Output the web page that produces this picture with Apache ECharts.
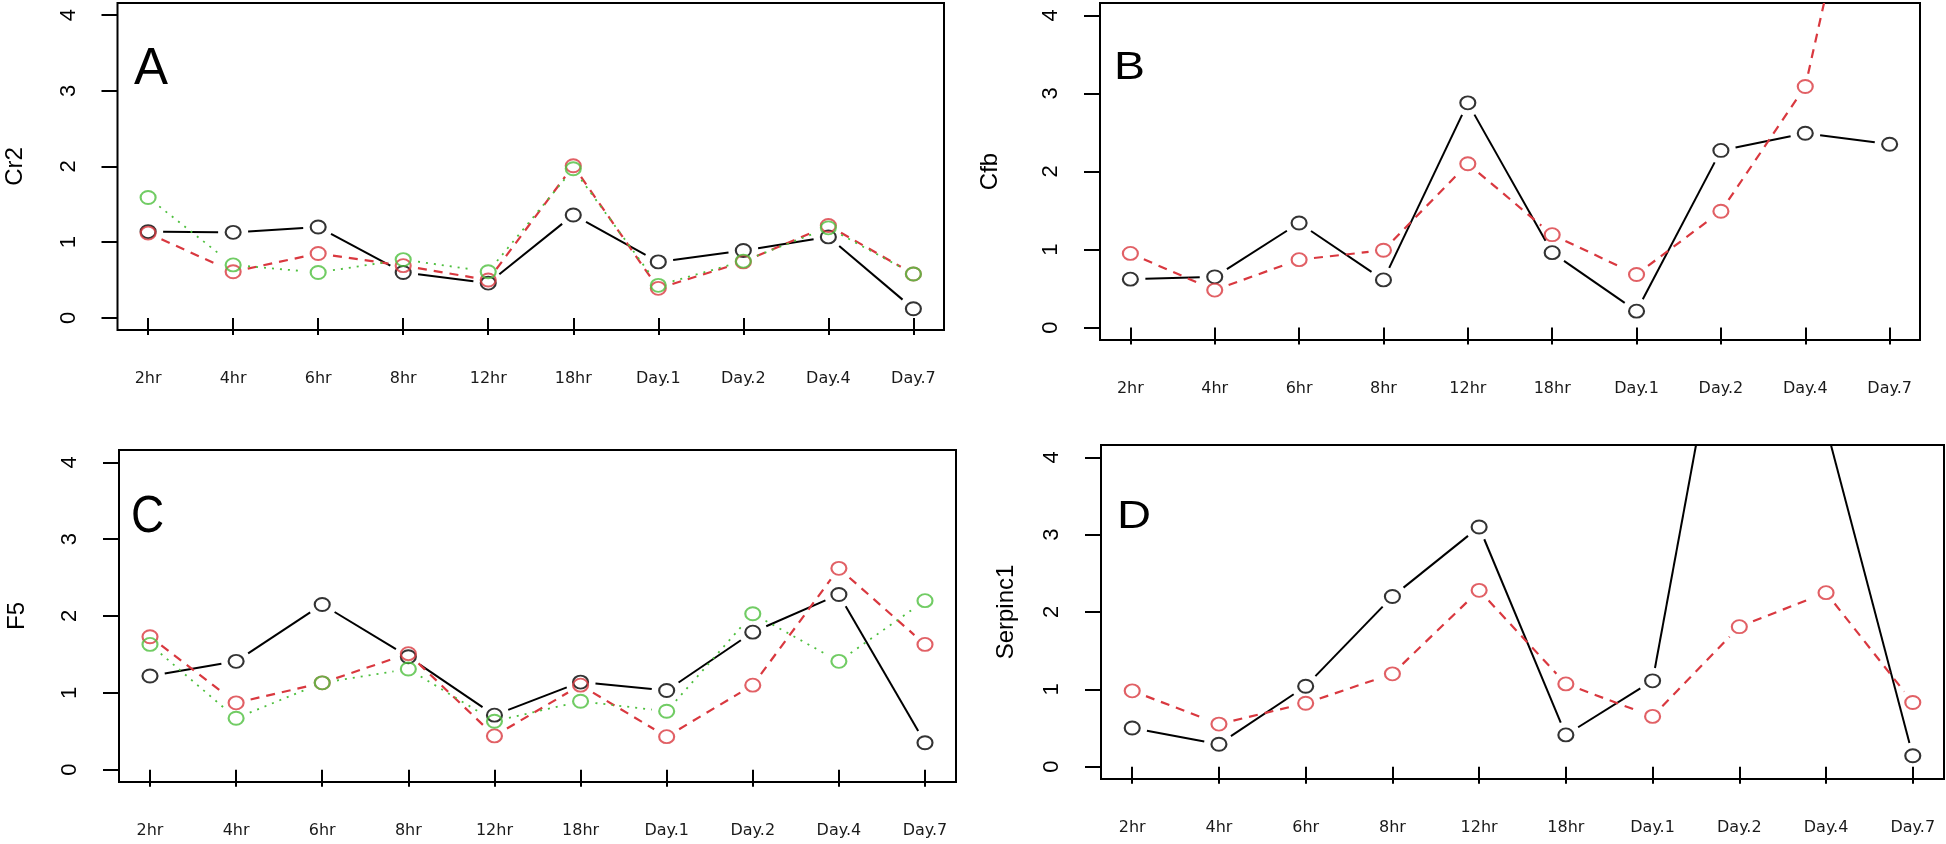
<!DOCTYPE html>
<html>
<head>
<meta charset="utf-8">
<script src="https://cdn.jsdelivr.net/npm/echarts@6/dist/echarts.min.js"></script>
<style>
html,body{margin:0;padding:0;background:#fff;}
#chart{width:1946px;height:844px;}
</style>
</head>
<body>
<div id="chart"></div>
<script>
// ---- data ----
const categories = ['2hr','4hr','6hr','8hr','12hr','18hr','Day.1','Day.2','Day.4','Day.7'];
const yTicks = [0, 1, 2, 3, 4];

const cr2Black = [1.14, 1.13, 1.20, 0.60, 0.46, 1.36, 0.74, 0.89, 1.07, 0.12];
const cr2Red   = [1.12, 0.61, 0.85, 0.69, 0.50, 2.01, 0.39, 0.74, 1.22, 0.58];
const cr2Green = [1.59, 0.70, 0.60, 0.77, 0.61, 1.97, 0.43, 0.75, 1.19, 0.58];

const cfbBlack = [0.62, 0.65, 1.34, 0.61, 2.88, 0.96, 0.21, 2.27, 2.49, 2.35];
const cfbRed   = [0.95, 0.48, 0.87, 0.99, 2.10, 1.19, 0.68, 1.49, 3.09, 7.9];

const f5Black = [1.22, 1.41, 2.15, 1.47, 0.71, 1.14, 1.03, 1.79, 2.28, 0.35];
const f5Red   = [1.73, 0.87, 1.13, 1.51, 0.44, 1.10, 0.43, 1.10, 2.62, 1.63];
const f5Green = [1.63, 0.67, 1.13, 1.31, 0.63, 0.89, 0.76, 2.03, 1.41, 2.20];

const serBlack = [0.50, 0.29, 1.04, 2.20, 3.10, 0.41, 1.11, 7.2, 4.4, 0.14];
const serRed   = [0.98, 0.55, 0.82, 1.20, 2.28, 1.07, 0.65, 1.81, 2.25, 0.83];

const panelTitles = ['Cr2', 'Cfb', 'F5', 'Serpinc1'];
const panelLetters = ['A', 'B', 'C', 'D'];

// ---- styles / layout ----
const BLACK = '#000000', RED = '#D9383F', GREEN = '#4DBF3D';
const styleBlack = {color: BLACK, dash: null, width: 2};
const styleRed   = {color: RED, dash: [9, 7], width: 2.2};
const styleGreen = {color: GREEN, dash: [2, 6], width: 1.8};

const panels = [
  {box: [117.5, 3, 944, 330], nameGap: 90, letter: {x: 134, y: 70, size: 51, sx: 1}, lines: [[cr2Black, styleBlack], [cr2Red, styleRed], [cr2Green, styleGreen]]},
  {box: [1100, 3, 1920, 340], nameGap: 98, letter: {x: 1114, y: 69, size: 38, sx: 1.22}, lines: [[cfbBlack, styleBlack], [cfbRed, styleRed]]},
  {box: [119, 450, 956, 782], nameGap: 90, letter: {x: 131, y: 518, size: 51, sx: 0.9}, lines: [[f5Black, styleBlack], [f5Red, styleRed], [f5Green, styleGreen]]},
  {box: [1101, 445, 1944, 779], nameGap: 83, letter: {x: 1117, y: 517.5, size: 38, sx: 1.24}, lines: [[serBlack, styleBlack], [serRed, styleRed]]}
];

const chart = echarts.init(document.getElementById('chart'), null, {renderer: 'canvas'});

const grid = [], xAxis = [], yAxis = [], series = [], graphic = [];
const X_PAD = 0.36, Y_PAD = 0.16;
const xMin = 1 - X_PAD, xMax = categories.length + X_PAD;
const yMin = yTicks[0] - Y_PAD, yMax = yTicks[yTicks.length - 1] + Y_PAD;

panels.forEach((p, k) => {
  const [L, T, R, B] = p.box;
  const xr = (R - L) / (xMax - xMin);
  const yr = (B - T) / (yMax - yMin);
  const tick1 = L + X_PAD * xr, tickN = R - X_PAD * xr;
  const yTop = T + Y_PAD * yr, yBot = B - Y_PAD * yr;
  const gv = 2 * k, gb = 2 * k + 1;

  grid.push({left: tick1, top: yTop, width: tickN - tick1, height: yBot - yTop, show: false});
  grid.push({left: L, top: T, width: R - L, height: B - T, show: true, borderColor: '#000', borderWidth: 2, backgroundColor: 'rgba(0,0,0,0)'});

  xAxis.push({
    type: 'category', gridIndex: gv, data: categories, boundaryGap: false, position: 'bottom',
    offset: B - yBot,
    axisLine: {show: false},
    axisTick: {show: true, length: 17, interval: 0, lineStyle: {color: '#000', width: 2}},
    axisLabel: {interval: 0, margin: 41, fontFamily: 'DejaVu Sans', fontSize: 16, color: '#1a1a1a'},
    splitLine: {show: false}
  });
  xAxis.push({type: 'value', gridIndex: gb, min: xMin, max: xMax, show: false});

  yAxis.push({
    type: 'value', gridIndex: gv, min: yTicks[0], max: yTicks[yTicks.length - 1], interval: 1,
    position: 'left', offset: tick1 - L,
    axisLine: {show: false},
    axisTick: {show: true, length: 16, lineStyle: {color: '#000', width: 2}},
    axisLabel: {rotate: 90, margin: 38, fontFamily: 'Liberation Sans', fontSize: 22, color: '#000'},
    splitLine: {show: false},
    name: panelTitles[k], nameLocation: 'middle', nameRotate: 90, nameGap: p.nameGap,
    nameTextStyle: {fontFamily: 'Liberation Sans', fontSize: 24, color: '#000'}
  });
  yAxis.push({type: 'value', gridIndex: gb, min: yMin, max: yMax, show: false});

  p.lines.forEach(([vals, st]) => {
    const segs = [];
    for (let i = 0; i < vals.length - 1; i++) segs.push([i + 1, vals[i], i + 2, vals[i + 1]]);
    series.push({
      type: 'custom', xAxisIndex: 2 * k + 1, yAxisIndex: 2 * k + 1, clip: true, silent: true,
      encode: {x: [0, 2], y: [1, 3]},
      data: segs,
      renderItem: function (params, api) {
        const a = api.coord([api.value(0), api.value(1)]);
        const b = api.coord([api.value(2), api.value(3)]);
        const dx = b[0] - a[0], dy = b[1] - a[1];
        const len = Math.sqrt(dx * dx + dy * dy);
        const ux = dx / len, uy = dy / len;
        const g = Math.sqrt((15 * ux) * (15 * ux) + (13 * uy) * (13 * uy));
        if (len <= 2 * g) return null;
        return {
          type: 'line',
          shape: {x1: a[0] + ux * g, y1: a[1] + uy * g, x2: b[0] - ux * g, y2: b[1] - uy * g},
          style: {stroke: st.color, lineWidth: st.width, lineDash: st.dash, fill: null}
        };
      },
      z: 3
    });
    series.push({
      type: 'scatter', xAxisIndex: 2 * k + 1, yAxisIndex: 2 * k + 1, clip: true, silent: true,
      data: vals.map((v, i) => [i + 1, v]),
      symbol: 'circle', symbolSize: [15, 13],
      itemStyle: {color: 'rgba(0,0,0,0)', borderColor: st.color, borderWidth: 2},
      z: 4
    });
  });

  graphic.push({
    type: 'text', x: p.letter.x, y: p.letter.y, scaleX: p.letter.sx, originX: 0, originY: 0,
    style: {text: panelLetters[k], font: p.letter.size + 'px "Liberation Sans"', fill: '#000',
      textAlign: 'left', textVerticalAlign: 'middle', verticalAlign: 'middle'},
    z: 10
  });
});

chart.setOption({
  animation: false,
  backgroundColor: '#ffffff',
  grid, xAxis, yAxis, series, graphic
});
</script>
</body>
</html>
